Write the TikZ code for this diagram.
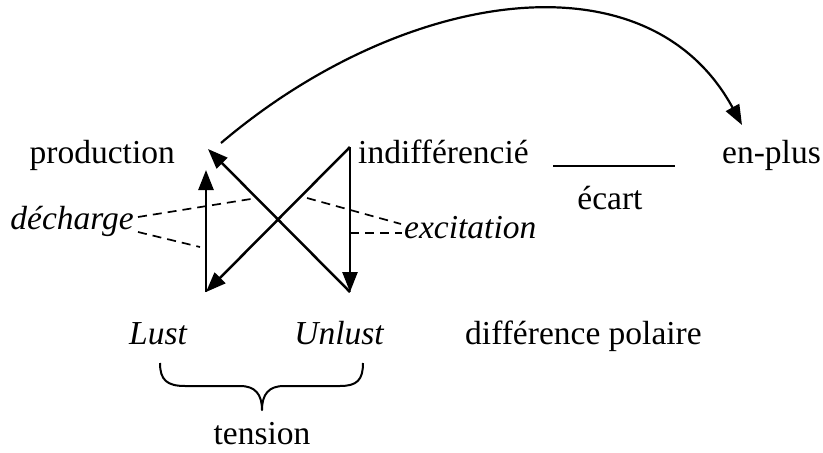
\documentclass[tikz,border=0pt]{standalone}
\usepackage{fontspec}
\setmainfont{Liberation Serif}
\usetikzlibrary{arrows.meta}
\begin{document}
\begin{tikzpicture}[x=1pt,y=1pt,
  lbl/.style={inner sep=0pt,font=\fontsize{33.5}{38}\selectfont},
  ilbl/.style={lbl,font=\fontsize{33.5}{38}\selectfont\itshape},
  arr/.style={line width=2.5pt,-{Triangle[length=20pt,width=15pt]}},
  dsh/.style={line width=1.7pt,dash pattern=on 9pt off 6pt},
  plain/.style={line width=1.8pt}]
\useasboundingbox (0,0) rectangle (823,-453);
% labels
\node[lbl,anchor=base east] (prod) at (175,-163) {production};
\node[lbl,anchor=base west] (indiff) at (358,-163) {indifférencié};
\node[lbl,anchor=base west] (enplus) at (722,-163) {en-plus};
\node[lbl,anchor=base] (ecart) at (610,-209) {écart};
\node[ilbl,anchor=base east] (decharge) at (134,-229) {décharge};
\node[ilbl,anchor=base west] (excit) at (404,-238) {excitation};
\node[ilbl,anchor=base] (lust) at (158,-344) {Lust};
\node[ilbl,anchor=base] (unlust) at (339,-344) {Unlust};
\node[lbl,anchor=base west] (diffpol) at (465,-344) {différence polaire};
\node[lbl,anchor=base] (tension) at (262,-444) {tension};
% corner points
\coordinate (LB) at (206,-292);
\coordinate (LT) at (206,-170);
\coordinate (RT) at (350,-147);
\coordinate (RB) at (350,-292);
\coordinate (PT) at (208,-149);
\coordinate (CS) at (221,-143);
\coordinate (CE) at (742,-125);
\coordinate (gapL) at (553,-166);
\coordinate (gapR) at (675,-166);
\coordinate (d1s) at (138,-217);
\coordinate (d1e) at (257,-198);
\coordinate (d2s) at (138,-232);
\coordinate (d2e) at (200,-247);
\coordinate (e1s) at (307,-198);
\coordinate (e1e) at (401,-224);
\coordinate (e2s) at (350,-233);
\coordinate (e2e) at (402,-233);
% arrows
\draw[arr] (LB) -- (LT);
\draw[arr] (RT) -- (RB);
\draw[arr] (RB) -- (PT);
\draw[arr] (RT) -- (LB);
\draw[arr,line width=2.2pt] (CS) .. controls (401,10) and (647,50) .. (CE);
% line over ecart
\draw[plain] (gapL) -- (gapR);
% dashed
\draw[dsh] (d1s) -- (d1e);
\draw[dsh] (d2s) -- (d2e);
\draw[dsh] (e1s) -- (e1e);
\draw[dsh] (e2s) -- (e2e);
% brace
\draw[line width=2pt,line join=round]
  (160,-363) .. controls (160,-380) and (167,-386) .. (185,-386) -- (240,-386)
  .. controls (255,-386) and (262,-394) .. (262,-410)
  .. controls (262,-394) and (269,-386) .. (284,-386) -- (340,-386)
  .. controls (357,-386) and (363,-380) .. (363,-363);
\end{tikzpicture}
\end{document}
